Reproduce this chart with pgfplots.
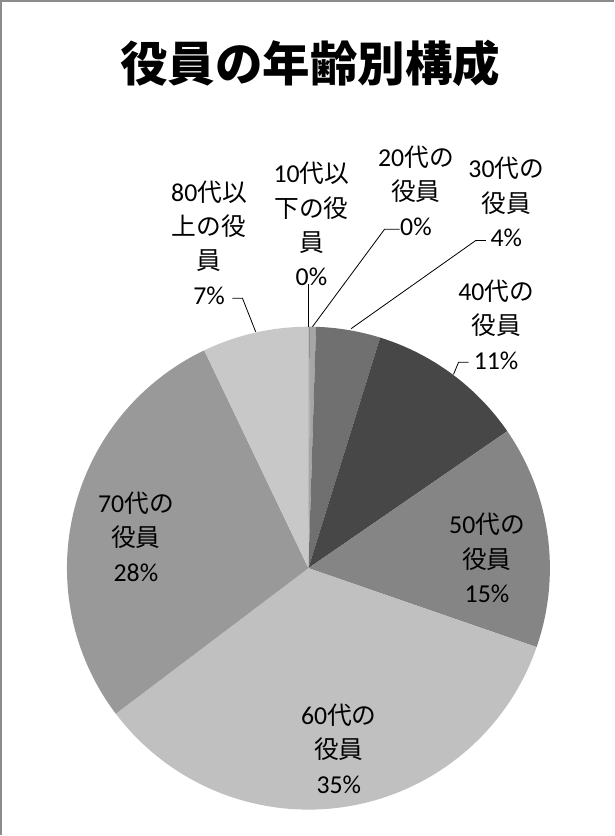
\documentclass[border=0pt]{standalone}
\usepackage{pgfplots}
\pgfplotsset{compat=1.18}
\usepackage{pgfplotstable}
\usepackage{fontspec}
\setmainfont{Carlito}
\newfontfamily\cjk{Noto Sans CJK JP}[Scale=0.96]
\newfontfamily\cjkt{Noto Sans CJK JP}
\newcommand\J[1]{{\cjk #1}}
\definecolor{slice0}{HTML}{8C8C8C}
\definecolor{slice1}{HTML}{A6A6A6}
\definecolor{slice2}{HTML}{707070}
\definecolor{slice3}{HTML}{474747}
\definecolor{slice4}{HTML}{858585}
\definecolor{slice5}{HTML}{C0C0C0}
\definecolor{slice6}{HTML}{999999}
\definecolor{slice7}{HTML}{C8C8C8}
\definecolor{frame}{HTML}{8C8C8C}
\tikzset{lb/.style={align=center, font=\fontsize{25.5}{34}\selectfont, inner sep=0pt}}
\pgfplotstableread{
age pct
10 0.1
20 0.4
30 4.3
40 10.6
50 14.9
60 34.4
70 28.2
80 7.1
}\datatable
\begin{document}
\begin{tikzpicture}
\begin{axis}[
  width=611bp, height=836bp, scale only axis,
  xmin=0, xmax=611, ymin=0, ymax=836, y dir=reverse,
  axis lines=none, xtick=\empty, ytick=\empty,
  clip=false,
]
\gdef\cum{0}
\pgfplotsforeachungrouped \i in {0,...,7}{
  \pgfplotstablegetelem{\i}{pct}\of\datatable
  \let\v\pgfplotsretval
  \pgfmathsetmacro\a{\cum*3.6}
  \pgfmathsetmacro\b{(\cum+\v)*3.6}
  \edef\temp{\noexpand\addplot[fill=slice\i, draw=none, domain=\a:\b, samples=80, variable=\noexpand\t]
    ({310+238*sin(\noexpand\t)},{573-238*cos(\noexpand\t)}) -- (axis cs:310,573) -- cycle;}
  \temp
  \pgfmathsetmacro\newcum{\cum+\v}
  \global\let\cum\newcum
}
% frame
\draw[frame, line width=2bp] (axis cs:7,836) -- (axis cs:7,14) -- (axis cs:611,14);
% title
\node[font=\cjkt\bfseries\fontsize{47}{50}\selectfont] at (axis cs:312,75) {役員の年齢別構成};
% leader lines
\draw[black, line width=0.8bp] (axis cs:310,293) -- (axis cs:310,335);
\draw[black, line width=0.8bp] (axis cs:400,239) -- (axis cs:385,239) -- (axis cs:314,335);
\draw[black, line width=0.8bp] (axis cs:485,250) -- (axis cs:475,250) -- (axis cs:352,337);
\draw[black, line width=0.8bp] (axis cs:468,370) -- (axis cs:458,370) -- (axis cs:453,382);
\draw[black, line width=0.8bp] (axis cs:235,307) -- (axis cs:245,307) -- (axis cs:258,340);
% labels
\node[lb] at (axis cs:313,234) {10\J{代以}\\\J{下の役}\\\J{員}\\0\%};
\node[lb] at (axis cs:416,201) {20\J{代の}\\\J{役員}\\0\%};
\node[lb] at (axis cs:505,212) {30\J{代の}\\\J{役員}\\4\%};
\node[lb] at (axis cs:495,333) {40\J{代の}\\\J{役員}\\11\%};
\node[lb] at (axis cs:486,563) {50\J{代の}\\\J{役員}\\15\%};
\node[lb] at (axis cs:340,751) {60\J{代の}\\\J{役員}\\35\%};
\node[lb] at (axis cs:140,542) {70\J{代の}\\\J{役員}\\28\%};
\node[lb] at (axis cs:212,252) {80\J{代以}\\\J{上の役}\\\J{員}\\7\%};
\end{axis}
\end{tikzpicture}
\end{document}
